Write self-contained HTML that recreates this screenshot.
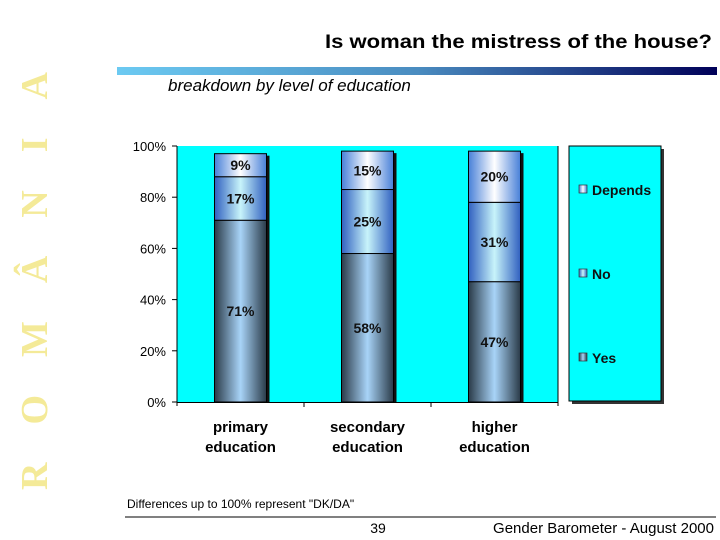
<!DOCTYPE html>
<html><head><meta charset="utf-8"><style>
body{margin:0;background:#fff;width:720px;height:540px;overflow:hidden;font-family:"Liberation Sans",sans-serif}
svg{position:absolute;left:0;top:0}
</style></head><body>
<svg id="c" width="720" height="540" xmlns="http://www.w3.org/2000/svg">
<defs>
<linearGradient id="hdr" x1="0" x2="1"><stop offset="0" stop-color="#6ccaf2"/><stop offset="0.5" stop-color="#4a8cc0"/><stop offset="1" stop-color="#000058"/></linearGradient>
<linearGradient id="gYes" x1="0" x2="1"><stop offset="0" stop-color="#2a3a48"/><stop offset="0.5" stop-color="#a8d4f8"/><stop offset="1" stop-color="#2a3a48"/></linearGradient>
<linearGradient id="gNo" x1="0" x2="1"><stop offset="0" stop-color="#3060c0"/><stop offset="0.5" stop-color="#c8f4fa"/><stop offset="1" stop-color="#3060c0"/></linearGradient>
<linearGradient id="gDep" x1="0" x2="1"><stop offset="0" stop-color="#4880d8"/><stop offset="0.5" stop-color="#ffffff"/><stop offset="1" stop-color="#4880d8"/></linearGradient>
</defs>
<text transform="translate(47,490) rotate(-90)" font-family="Liberation Serif,serif" font-weight="bold" font-size="38" fill="#f4ea98" letter-spacing="38">ROMÂNIA</text>
<text x="325" y="48" font-size="19" font-weight="bold" fill="#000" textLength="387" lengthAdjust="spacingAndGlyphs">Is woman the mistress of the house?</text>
<rect x="117" y="67" width="600" height="8" fill="url(#hdr)"/>
<text x="168" y="91" font-size="17" font-style="italic" fill="#000">breakdown by level of education</text>
<rect x="177" y="146" width="381" height="256" fill="#00ffff"/>
<line x1="177" y1="146" x2="177" y2="406" stroke="#000" stroke-width="1"/>
<line x1="177" y1="402.5" x2="558" y2="402.5" stroke="#000" stroke-width="1"/>
<line x1="558" y1="146" x2="558" y2="406" stroke="#000" stroke-width="1"/>
<g id="ticks"></g>
<g id="bars"></g>
<rect x="572" y="149" width="92" height="255" fill="#333"/>
<rect x="569" y="146" width="92" height="255" fill="#00ffff" stroke="#000"/>
<g id="legend"></g>
<text x="127" y="508" font-size="12">Differences up to 100% represent "DK/DA"</text>
<line x1="125" y1="517" x2="716" y2="517" stroke="#000" stroke-width="1"/>
<text x="378" y="533" text-anchor="middle" font-size="14">39</text>
<text x="714" y="533" text-anchor="end" font-size="15">Gender Barometer - August 2000</text>
</svg>
<script>
const categories=[["primary","education"],["secondary","education"],["higher","education"]];
const yesVals=[71,58,47];
const noVals=[17,25,31];
const depVals=[9,15,20];
const yTicks=[0,20,40,60,80,100];
const seriesNames=["Depends","No","Yes"];
const NS="http://www.w3.org/2000/svg";
const x0=177,plotW=381,yBase=402,plotH=256,barW=52;
function y(v){return yBase-v/100*plotH;}
function xc(i){return x0+plotW*(i+0.5)/categories.length;}
function mk(tag,attrs,parent){const e=document.createElementNS(NS,tag);for(const k in attrs)e.setAttribute(k,attrs[k]);parent.appendChild(e);return e;}
const tg=document.getElementById('ticks');
yTicks.forEach(t=>{
 mk('line',{x1:x0-5,x2:x0,y1:y(t),y2:y(t),stroke:'#000'},tg);
 const tx=mk('text',{x:166,y:y(t)+5,'text-anchor':'end','font-size':13},tg);
 
 
 tx.textContent=t+'%';
});
for(let i=1;i<categories.length;i++){mk('line',{x1:x0+plotW*i/categories.length,x2:x0+plotW*i/categories.length,y1:yBase,y2:yBase+5,stroke:'#000'},tg);}
const bg=document.getElementById('bars');
categories.forEach((c,i)=>{
 const cx=xc(i),bx=cx-barW/2;
 const segs=[[yesVals[i],'gYes','yes'],[noVals[i],'gNo','no'],[depVals[i],'gDep','depends']];
 let acc=0;
 const total=yesVals[i]+noVals[i]+depVals[i];
 mk('rect',{x:bx+3,y:y(total)+2,width:barW,height:y(0)-y(total)-2,fill:'#111'},bg);
 segs.forEach(s=>{
  const r=mk('rect',{x:bx,y:y(acc+s[0]),width:barW,height:y(acc)-y(acc+s[0]),fill:'url(#'+s[1]+')',stroke:'#000','stroke-width':1},bg);
  
  
  const t=mk('text',{x:cx,y:y(acc+s[0]/2)+5,'text-anchor':'middle','font-size':14,'font-weight':'bold',fill:'#111'},bg);
  
  
  t.textContent=s[0]+'%';
  acc+=s[0];
 });
 c.forEach((line,k)=>{
  const t=mk('text',{x:cx,y:432+k*20,'text-anchor':'middle','font-size':15,'font-weight':'bold'},bg);
  
  
  t.textContent=line;
 });
});
const lg=document.getElementById('legend');
const lgFill={Depends:'gDep',No:'gNo',Yes:'gYes'};
seriesNames.forEach((n,k)=>{
 const ly=190+k*84;
 const r=mk('rect',{x:579,y:ly-5,width:8,height:8,fill:'url(#'+lgFill[n]+')',stroke:'#333','stroke-width':0.7},lg);
 
 
 const t=mk('text',{x:592,y:ly+5,'font-size':14,'font-weight':'bold',fill:'#111'},lg);
 
 
 t.textContent=n;
});
</script>
</body></html>
